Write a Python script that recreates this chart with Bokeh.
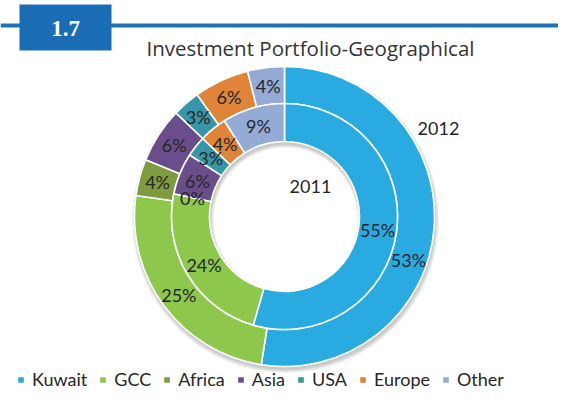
import numpy as np
from bokeh.plotting import figure
from bokeh.models import Range1d, Label, Legend, LegendItem
from bokeh.embed import file_html
from bokeh.resources import INLINE
from bokeh.core.properties import value

# ---- data ----
categories = ["Kuwait", "GCC", "Africa", "Asia", "USA", "Europe", "Other"]
values_2012 = [53, 25, 4, 6, 3, 6, 4]   # outer ring
values_2011 = [55, 24, 0, 6, 3, 4, 9]   # inner ring
colors = ["#29abe2", "#8dc84c", "#7e9b40", "#6a4e8c", "#3796a7", "#e0843a", "#93abd5"]
title_text = "Investment Portfolio-Geographical"
badge_text = "1.7"
ring_names = ["2012", "2011"]

# ---- layout ----
W, H = 558, 392
FONT = "Lato"
TXT = "#262626"
cx, cy = 284, 408 - 216
r_in, r_mid, r_out = 75, 113, 150
label_nudge_2012 = {"Kuwait": 15}   # degrees clockwise, label placement tweak

p = figure(width=W, height=H, x_range=Range1d(0, W), y_range=Range1d(408 - H, 408),
           x_axis_type=None, y_axis_type=None, output_backend="svg",
           toolbar_location=None, min_border=0)
p.grid.visible = False
p.outline_line_color = None
p.background_fill_color = "white"
p.border_fill_color = "white"

# header line + badge
p.quad(left=0, right=W, bottom=408 - 27, top=408 - 23, fill_color="#1f72b8", line_color=None)
p.quad(left=19, right=111, bottom=408 - 50, top=408 - 4, fill_color="#1a6db4", line_color=None)
p.add_layout(Label(x=65, y=408 - 28, text=badge_text, text_align="center", text_baseline="middle",
                   text_font="Liberation Serif", text_font_style="bold", text_font_size="23px",
                   text_color="white"))
p.add_layout(Label(x=310, y=408 - 47, text=title_text, text_align="center", text_baseline="middle",
                   text_font="Open Sans", text_font_size="20.5px", text_color="#333333"))

# soft shadow
for k in range(5):
    p.annulus(x=cx + 1, y=cy - 3, inner_radius=r_in - k * 0.8, outer_radius=r_out + k * 0.9,
              fill_color="#555555", fill_alpha=0.07, line_color=None)

rings = [(values_2012, r_mid, r_out), (values_2011, r_in, r_mid)]
renderers = {c: [] for c in categories}
lx, ly, lt = [], [], []
for ri, (vals, ri_in, ri_out) in enumerate(rings):
    tot = float(sum(vals))
    cum = np.concatenate([[0], np.cumsum(vals)]) / tot
    for i, c in enumerate(categories):
        a0 = np.pi / 2 - 2 * np.pi * cum[i]
        a1 = np.pi / 2 - 2 * np.pi * cum[i + 1]
        if vals[i] > 0:
            r = p.annular_wedge(x=cx, y=cy, inner_radius=ri_in, outer_radius=ri_out,
                                start_angle=a0, end_angle=a1, direction="clock",
                                fill_color=colors[i], line_color="white", line_width=1.6)
            renderers[c].append(r)
        mid = (a0 + a1) / 2
        if ri == 0:
            mid -= np.deg2rad(label_nudge_2012.get(c, 0))
        rm = (ri_in + ri_out) / 2
        lx.append(cx + rm * np.cos(mid))
        ly.append(cy + rm * np.sin(mid))
        lt.append(f"{vals[i]}%")

p.text(x=lx, y=ly, text=lt, text_align="center", text_baseline="middle",
       text_font=value(FONT), text_font_size="18px", text_color=TXT)

p.add_layout(Label(x=438, y=408 - 128, text=ring_names[0], text_align="center", text_baseline="middle",
                   text_font=FONT, text_font_size="18px", text_color=TXT))
p.add_layout(Label(x=310, y=408 - 186, text=ring_names[1], text_align="center", text_baseline="middle",
                   text_font=FONT, text_font_size="18px", text_color=TXT))

items = [LegendItem(label=c, renderers=renderers[c][:1]) for c in categories]
leg = Legend(items=items, orientation="horizontal", location=(16, 2),
             glyph_width=9, glyph_height=9, label_standoff=7, spacing=11,
             padding=0, margin=0, border_line_color=None, background_fill_alpha=0,
             label_text_font=FONT, label_text_font_size="18px", label_text_color=TXT,
             label_height=18)
p.add_layout(leg, "center")

open("out.html", "w").write(file_html(p, INLINE))
